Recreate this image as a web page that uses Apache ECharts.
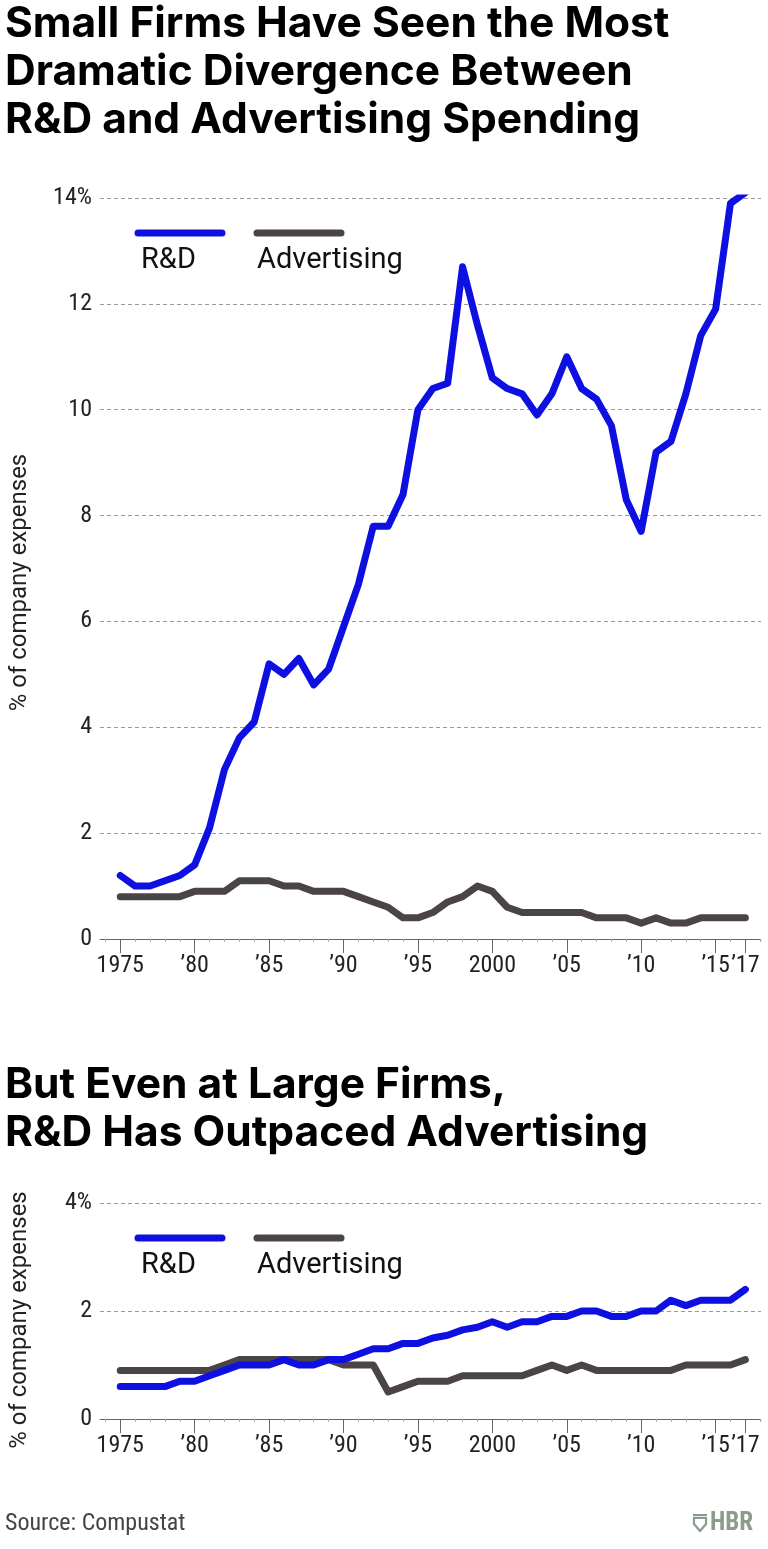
<!DOCTYPE html>
<html>
<head>
<meta charset="utf-8">
<script src="https://cdn.jsdelivr.net/npm/echarts@6/dist/echarts.min.js"></script>
<style>
html,body{margin:0;padding:0;background:#fff;}
#chart{width:768px;height:1549px;}
</style>
</head>
<body>
<div id="chart"></div>
<script>
// ---- data ----
const years = [];
for (let y = 1975; y <= 2017; y++) years.push(y);

const rdSmall = [1.2,1.0,1.0,1.1,1.2,1.4,2.1,3.2,3.8,4.1,
                 5.2,5.0,5.3,4.8,5.1,5.9,6.7,7.8,7.8,8.4,
                 10.0,10.4,10.5,12.7,11.6,10.6,10.4,10.3,9.9,10.3,
                 11.0,10.4,10.2,9.7,8.3,7.7,9.2,9.4,10.3,11.4,
                 11.9,13.9,14.1];
const adSmall = [0.8,0.8,0.8,0.8,0.8,0.9,0.9,0.9,1.1,1.1,
                 1.1,1.0,1.0,0.9,0.9,0.9,0.8,0.7,0.6,0.4,
                 0.4,0.5,0.7,0.8,1.0,0.9,0.6,0.5,0.5,0.5,
                 0.5,0.5,0.4,0.4,0.4,0.3,0.4,0.3,0.3,0.4,
                 0.4,0.4,0.4];
const rdLarge = [0.6,0.6,0.6,0.6,0.7,0.7,0.8,0.9,1.0,1.0,
                 1.0,1.1,1.0,1.0,1.1,1.1,1.2,1.3,1.3,1.4,
                 1.4,1.5,1.55,1.65,1.7,1.8,1.7,1.8,1.8,1.9,
                 1.9,2.0,2.0,1.9,1.9,2.0,2.0,2.2,2.1,2.2,
                 2.2,2.2,2.4];
const adLarge = [0.9,0.9,0.9,0.9,0.9,0.9,0.9,1.0,1.1,1.1,
                 1.1,1.1,1.1,1.1,1.1,1.0,1.0,1.0,0.5,0.6,
                 0.7,0.7,0.7,0.8,0.8,0.8,0.8,0.8,0.9,1.0,
                 0.9,1.0,0.9,0.9,0.9,0.9,0.9,0.9,1.0,1.0,
                 1.0,1.0,1.1];

const xTickValues = [1975,1980,1985,1990,1995,2000,2005,2010,2015,2017];
const xTickLabels = ['1975',"’80","’85","’90","’95",'2000',"’05","’10","’15","’17"];
const minorTickValues = [];
for (let y = 1974; y <= 2018; y++) if (xTickValues.indexOf(y) < 0) minorTickValues.push(y);

const title1 = 'Small Firms Have Seen the Most\nDramatic Divergence Between\nR&D and Advertising Spending';
const title2 = 'But Even at Large Firms,\nR&D Has Outpaced Advertising';
const yName = '% of company expenses';
const seriesNames = ['R&D', 'Advertising'];
const sourceText = 'Source: Compustat';

// ---- styling ----
const BLUE = '#0d10e0';
const GRAY = '#4a4347';
const COND = "'Liberation Sans Narrow','Roboto Condensed','DejaVu Sans Condensed',sans-serif";
const SANS = "Roboto,'Noto Sans',sans-serif";
const TITLEF = "Inter,'Open Sans',Roboto,sans-serif";
const XMIN = 1973.64, XMAX = 2018.05;

function pairs(vals){ return years.map((y,i)=>[y, vals[i]]); }

function xAxes(gridIndex){
  return [{
    type:'value', gridIndex, min:XMIN, max:XMAX, position:'bottom',
    axisLine:{show:true, lineStyle:{color:'#666', width:1.2}},
    axisTick:{show:true, customValues:xTickValues, length:14, lineStyle:{color:'#666', width:1}},
    axisLabel:{customValues:xTickValues, hideOverlap:false, margin:15, fontFamily:COND, fontSize:24, color:'#222',
      formatter:(v)=>{const i=xTickValues.indexOf(Math.round(v)); return i>=0?xTickLabels[i]:'';}},
    splitLine:{show:false}
  },{
    type:'value', gridIndex, min:XMIN, max:XMAX, position:'bottom',
    axisLine:{show:false},
    axisTick:{show:true, customValues:minorTickValues, length:3, lineStyle:{color:'#aaa', width:1}},
    axisLabel:{show:false},
    splitLine:{show:false}
  }];
}
function yAxis(gridIndex, max, namePad){
  return {
    type:'value', gridIndex, min:0, max:max, interval:2,
    name:yName, nameLocation:'middle', nameGap:68,
    nameTextStyle:{fontFamily:SANS, fontSize:24, color:'#222', padding:[0,namePad,0,0]},
    axisLine:{show:false}, axisTick:{show:false},
    axisLabel:{margin:8, fontFamily:COND, fontSize:24, color:'#222',
      formatter:(v)=> v===max ? v+'%' : String(v)},
    splitLine:{show:true, lineStyle:{color:'#999', type:[4,3], width:1}}
  };
}
function lineSeries(name, vals, color, xi, yi){
  return {type:'line', name, data:pairs(vals), xAxisIndex:xi, yAxisIndex:yi,
    showSymbol:false, symbol:'none', animation:false, silent:true,
    lineStyle:{color, width:7, join:'round', cap:'round'}, itemStyle:{color}};
}
function legendGraphics(lineY, textY){
  return [
    {type:'line', shape:{x1:138,y1:lineY,x2:222,y2:lineY}, style:{stroke:BLUE, lineWidth:7, lineCap:'round'}},
    {type:'line', shape:{x1:257,y1:lineY,x2:341,y2:lineY}, style:{stroke:GRAY, lineWidth:7, lineCap:'round'}},
    {type:'text', x:141, y:textY, style:{text:seriesNames[0], font:'29px '+SANS, fill:'#111', verticalAlign:'middle'}},
    {type:'text', x:257, y:textY, style:{text:seriesNames[1], font:'29px '+SANS, fill:'#111', verticalAlign:'middle'}}
  ];
}

const chart = echarts.init(document.getElementById('chart'), null, {renderer:'canvas'});
chart.setOption({
  animation:false,
  backgroundColor:'#fff',
  title:[
    {text:title1, left:5, top:0, padding:0,
     textStyle:{fontFamily:TITLEF, fontWeight:'bold', fontSize:42.5, lineHeight:48, color:'#000'}},
    {text:title2, left:5, top:1061, padding:0,
     textStyle:{fontFamily:TITLEF, fontWeight:'bold', fontSize:42.5, lineHeight:48, color:'#000'}}
  ],
  grid:[
    {left:98, right:7, top:198, height:741},
    {left:98, right:7, top:1203, height:216}
  ],
  xAxis:[...xAxes(0), ...xAxes(1)],
  yAxis:[yAxis(0,14,28), yAxis(1,4,18)],
  series:[
    lineSeries(seriesNames[1], adSmall, GRAY, 0, 0),
    lineSeries(seriesNames[0], rdSmall, BLUE, 0, 0),
    lineSeries(seriesNames[1], adLarge, GRAY, 2, 1),
    lineSeries(seriesNames[0], rdLarge, BLUE, 2, 1)
  ],
  graphic:[
    ...legendGraphics(233, 261),
    ...legendGraphics(1238, 1266),
    {type:'text', x:5, y:1524, style:{text:sourceText, font:'24px '+COND, fill:'#444', verticalAlign:'middle'}},
    {type:'polygon', shape:{points:[[694,1518],[706,1518],[706,1524],[700,1531],[694,1524]]},
     style:{fill:'none', stroke:'#8d9b8c', lineWidth:2.2}},
    {type:'rect', shape:{x:693,y:1514,width:14,height:2.2}, style:{fill:'#8d9b8c'}},
    {type:'text', x:710, y:1524, style:{text:'HBR', font:'bold 25px '+COND, fill:'#8d9b8c', verticalAlign:'middle'}}
  ]
});
</script>
</body>
</html>
